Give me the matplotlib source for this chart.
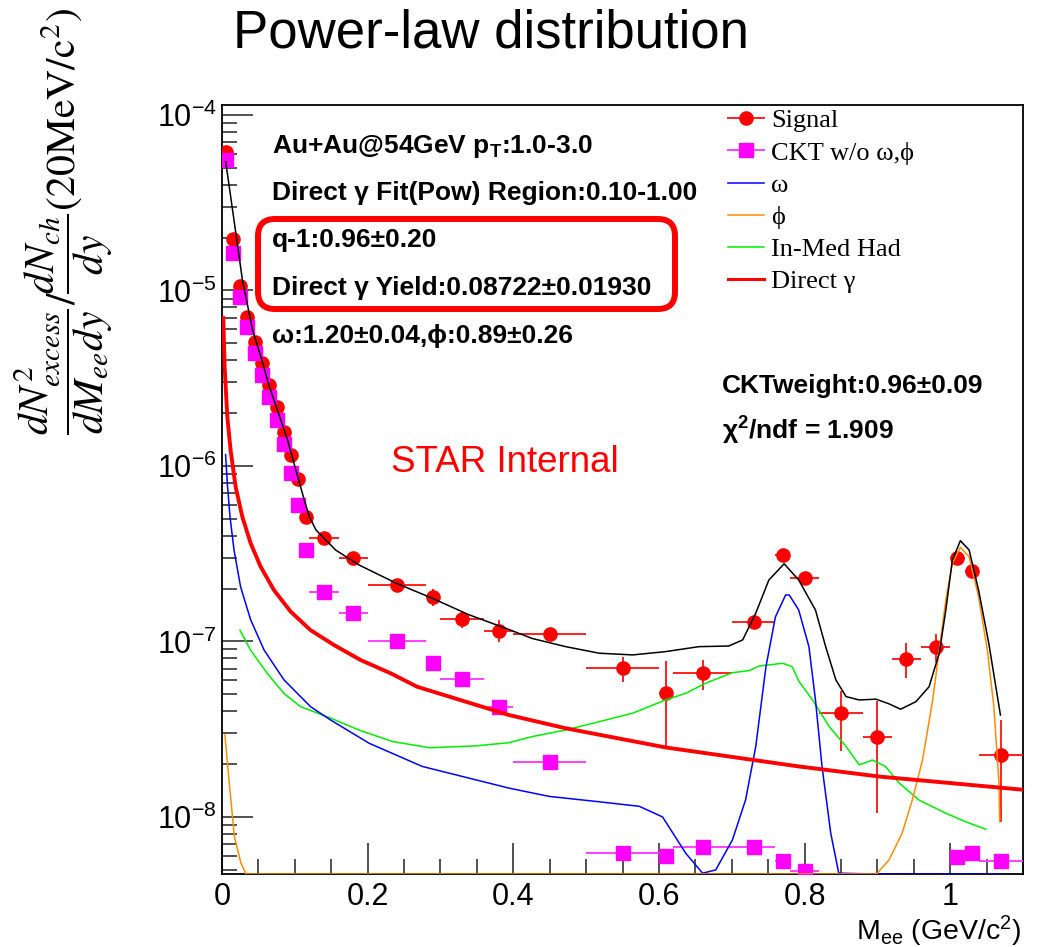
import numpy as np
import matplotlib
matplotlib.use("Agg")
import matplotlib.pyplot as plt
import matplotlib.ticker as mticker
from matplotlib.lines import Line2D
from matplotlib.patches import FancyBboxPatch

plt.rcParams.update({
    "font.family": ["Liberation Sans", "DejaVu Sans"],
    "mathtext.fontset": "custom",
    "mathtext.rm": "Liberation Sans",
    "mathtext.it": "Liberation Sans:italic",
    "mathtext.bf": "Liberation Sans:bold",
    "mathtext.sf": "Liberation Sans",
})

W, H = 1043, 947

# ── data ─────────────────────────────────────────────────────────────────────
sig_x = [0.005, 0.015, 0.025, 0.035, 0.045, 0.055, 0.065, 0.075, 0.085, 0.095,
         0.105, 0.115, 0.14, 0.18, 0.24, 0.29, 0.33, 0.38, 0.45, 0.55, 0.61,
         0.66, 0.73, 0.77, 0.80, 0.85, 0.90, 0.94, 0.98, 1.01, 1.03, 1.07]
sig_xerr = [0.005] * 12 + [0.02, 0.02, 0.04, 0.01, 0.03, 0.02, 0.05, 0.05, 0.01,
                           0.04, 0.03, 0.01, 0.02, 0.03, 0.02, 0.02, 0.02, 0.01,
                           0.01, 0.03]
sig_y = [6.18e-5, 1.96e-5, 1.06e-5, 7.1e-6, 5.1e-6, 3.85e-6, 2.88e-6, 2.16e-6,
         1.57e-6, 1.16e-6, 8.43e-7, 5.1e-7, 3.87e-7, 2.98e-7, 2.10e-7, 1.80e-7,
         1.34e-7, 1.14e-7, 1.10e-7, 7.1e-8, 5.1e-8, 6.6e-8, 1.29e-7, 3.11e-7,
         2.31e-7, 3.93e-8, 2.87e-8, 7.94e-8, 9.26e-8, 2.98e-7, 2.53e-7, 2.25e-8]
sig_elo = [2e-6, 8e-7, 4e-7, 3e-7, 2e-7, 1.5e-7, 1.2e-7, 1e-7, 7e-8, 5e-8, 4e-8,
           3e-8, 2.5e-8, 2e-8, 1.2e-8, 2e-8, 1.5e-8, 1.5e-8, 8e-9, 1.2e-8, 2.6e-8,
           1.3e-8, 1.1e-8, 1.5e-8, 1.2e-8, 1.54e-8, 1.82e-8, 1.74e-8, 1.66e-8,
           1.5e-8, 1.5e-8, 1.32e-8]
sig_ehi = [2e-6, 8e-7, 4e-7, 3e-7, 2e-7, 1.5e-7, 1.2e-7, 1e-7, 7e-8, 5e-8, 4e-8,
           3e-8, 2.5e-8, 2e-8, 1.2e-8, 2e-8, 1.5e-8, 1.8e-8, 8e-9, 1.1e-8, 2.6e-8,
           1.2e-8, 1.1e-8, 1.5e-8, 1.2e-8, 1.27e-8, 1.73e-8, 1.86e-8, 1.74e-8,
           1.5e-8, 1.5e-8, 1.32e-8]

ckt_x = [0.005, 0.015, 0.025, 0.035, 0.045, 0.055, 0.065, 0.075, 0.085, 0.095,
         0.105, 0.115, 0.14, 0.18, 0.24, 0.29, 0.33, 0.38, 0.45, 0.55, 0.61,
         0.66, 0.73, 0.77, 0.80, 1.01, 1.03, 1.07]
ckt_xerr = [0.005] * 12 + [0.02, 0.02, 0.04, 0.01, 0.03, 0.02, 0.05, 0.05, 0.01,
                           0.04, 0.03, 0.01, 0.02, 0.01, 0.01, 0.03]
ckt_y = [5.54e-5, 1.63e-5, 9.14e-6, 6.17e-6, 4.38e-6, 3.30e-6, 2.46e-6, 1.83e-6,
         1.33e-6, 9.16e-7, 6.0e-7, 3.32e-7, 1.92e-7, 1.45e-7, 1.01e-7, 7.54e-8,
         6.1e-8, 4.25e-8, 2.06e-8, 6.2e-9, 6.0e-9, 6.78e-9, 6.78e-9, 5.63e-9,
         4.94e-9, 5.94e-9, 6.2e-9, 5.63e-9]

tot_x = [0.005, 0.010, 0.019, 0.028, 0.042, 0.056, 0.065, 0.076, 0.090, 0.102,
         0.113, 0.120, 0.129, 0.156, 0.188, 0.239, 0.289, 0.339, 0.394, 0.426,
         0.472, 0.518, 0.564, 0.609, 0.655, 0.696, 0.715, 0.733, 0.751, 0.772,
         0.792, 0.815, 0.829, 0.843, 0.857, 0.875, 0.898, 0.916, 0.932, 0.953,
         0.971, 0.985, 0.994, 1.003, 1.014, 1.026, 1.039, 1.053, 1.069]
tot_y = [5.42e-5, 3.90e-5, 2.12e-5, 1.15e-5, 5.96e-6, 3.85e-6, 2.83e-6, 2.09e-6,
         1.41e-6, 9.28e-7, 6.4e-7, 5.14e-7, 4.32e-7, 3.32e-7, 2.73e-7, 2.15e-7,
         1.76e-7, 1.42e-7, 1.17e-7, 1.04e-7, 9.34e-8, 8.57e-8, 8.38e-8, 8.75e-8,
         9.34e-8, 9.42e-8, 1.02e-7, 1.45e-7, 2.24e-7, 2.77e-7, 2.24e-7, 1.51e-7,
         9.34e-8, 6.04e-8, 4.85e-8, 4.64e-8, 4.69e-8, 4.41e-8, 4.11e-8, 4.54e-8,
         5.52e-8, 8.57e-8, 1.51e-7, 2.91e-7, 3.75e-7, 3.32e-7, 1.96e-7, 9.77e-8,
         3.81e-8]

omega_x = [0.0049, 0.0073, 0.011, 0.0165, 0.0255, 0.0393, 0.0577, 0.0851, 0.1216,
           0.149, 0.202, 0.275, 0.394, 0.449, 0.518, 0.573, 0.605, 0.637, 0.660,
           0.678, 0.701, 0.719, 0.733, 0.747, 0.760, 0.774, 0.779, 0.792, 0.806,
           0.815, 0.824, 0.836, 0.847, 0.90, 1.07]
omega_y = [1.16e-6, 7.96e-7, 5.14e-7, 3.32e-7, 2.05e-7, 1.33e-7, 8.95e-8, 6.04e-8,
           4.25e-8, 3.57e-8, 2.63e-8, 1.94e-8, 1.46e-8, 1.31e-8, 1.22e-8, 1.15e-8,
           1.0e-8, 6.2e-9, 4.78e-9, 4.99e-9, 7.4e-9, 1.25e-8, 2.52e-8, 7.18e-8,
           1.38e-7, 1.84e-7, 1.84e-7, 1.51e-7, 9.34e-8, 4.64e-8, 1.94e-8, 8.07e-9,
           4.78e-9, 0.0, 0.0]

phi_x = [0.004, 0.010, 0.017, 0.026, 0.033, 0.04, 0.85, 0.899, 0.916, 0.934,
         0.948, 0.962, 0.976, 0.985, 0.994, 1.003, 1.014, 1.026, 1.039, 1.051,
         1.060, 1.067, 1.068]
phi_y = [2.93e-8, 1.56e-8, 7.73e-9, 5.45e-9, 4.73e-9, 0.0, 0.0, 4.73e-9, 5.69e-9,
         8.07e-9, 1.25e-8, 2.11e-8, 4.64e-8, 8.95e-8, 1.72e-7, 2.79e-7, 3.44e-7,
         3.04e-7, 1.80e-7, 8.95e-8, 4.25e-8, 1.56e-8, 9.4e-9]

had_x = [0.0247, 0.039, 0.062, 0.085, 0.108, 0.149, 0.188, 0.234, 0.285, 0.349,
         0.394, 0.426, 0.472, 0.518, 0.564, 0.609, 0.637, 0.664, 0.701, 0.724,
         0.738, 0.770, 0.783, 0.792, 0.811, 0.834, 0.857, 0.875, 0.893, 0.911,
         0.930, 0.957, 0.994, 1.021, 1.049]
had_y = [1.16e-7, 8.95e-8, 6.59e-8, 5.06e-8, 4.25e-8, 3.66e-8, 3.13e-8, 2.69e-8,
         2.48e-8, 2.54e-8, 2.65e-8, 2.87e-8, 3.13e-8, 3.49e-8, 3.90e-8, 4.64e-8,
         5.07e-8, 5.78e-8, 6.64e-8, 6.82e-8, 7.25e-8, 7.51e-8, 7.18e-8, 5.95e-8,
         4.64e-8, 3.27e-8, 2.52e-8, 1.98e-8, 2.11e-8, 1.94e-8, 1.56e-8, 1.25e-8,
         1.05e-8, 9.4e-9, 8.5e-9]

dg_x = [0.0018, 0.0036, 0.0073, 0.0118, 0.0187, 0.0279, 0.0393, 0.053, 0.0714,
        0.0942, 0.1216, 0.1537, 0.190, 0.2314, 0.268, 0.394, 0.472, 0.609, 0.792,
        0.902, 1.099]
dg_y = [6.95e-6, 3.68e-6, 1.91e-6, 1.23e-6, 7.62e-7, 5.14e-7, 3.63e-7, 2.67e-7,
        1.96e-7, 1.48e-7, 1.16e-7, 9.55e-8, 7.85e-8, 6.59e-8, 5.52e-8, 3.81e-8,
        3.20e-8, 2.49e-8, 1.94e-8, 1.70e-8, 1.43e-8]

YMIN, YMAX = 4.73e-9, 1.14e-4

info_lines = [
    r"Au+Au@54GeV p$_{\mathbf{T}}$:1.0-3.0",
    "Direct γ Fit(Pow) Region:0.10-1.00",
    "q-1:0.96±0.20",
    "Direct γ Yield:0.08722±0.01930",
    "ω:1.20±0.04,ϕ:0.89±0.26",
]
info_base_y = [153, 200, 247, 295, 343]


def fx(px):
    return px / W


def fy(py):
    return 1 - py / H


fig = plt.figure(figsize=(W / 100, H / 100), dpi=100)
ax = fig.add_axes([fx(222), fy(874), (1023 - 222) / W, (874 - 105) / H])
ax.set_yscale("log")
ax.set_xlim(0, 1.1)
ax.set_ylim(YMIN, YMAX)


def floor(v):
    return np.clip(np.asarray(v, dtype=float), YMIN, None)


ax.errorbar(sig_x, sig_y, xerr=sig_xerr, yerr=[sig_elo, sig_ehi], fmt="o",
            color="#ff0000", ecolor="#ff2020", elinewidth=1.4, markersize=9.5,
            capsize=0, zorder=3)
ax.errorbar(ckt_x, ckt_y, xerr=ckt_xerr, fmt="s", color="#ff00ff",
            ecolor="#ff40ff", elinewidth=1.4, markersize=10, capsize=0, zorder=4)

ax.plot(had_x, had_y, color="#00ee00", lw=1.1, zorder=5)
ax.plot(omega_x, floor(omega_y), color="#0000ff", lw=1.1, zorder=5)
ax.plot(phi_x, floor(phi_y), color="#ff8c00", lw=1.1, zorder=5)
ax.plot(dg_x, dg_y, color="#ff0000", lw=2.8, zorder=5)
ax.plot(tot_x, tot_y, color="black", lw=1.1, zorder=6)

# ROOT-like axes: ticks inside, no ticks top/right
for s in ax.spines.values():
    s.set_linewidth(1.3)
ax.xaxis.set_major_locator(mticker.MultipleLocator(0.2))
ax.xaxis.set_minor_locator(mticker.MultipleLocator(0.05))
ax.xaxis.set_major_formatter(mticker.FuncFormatter(lambda v, _: f"{v:g}"))
ax.yaxis.set_major_locator(mticker.LogLocator(base=10, numticks=20))
ax.yaxis.set_minor_locator(mticker.LogLocator(base=10, subs=np.arange(2, 10), numticks=20))
ax.yaxis.set_minor_formatter(mticker.NullFormatter())
ax.tick_params(which="both", direction="in", top=False, right=False,
               labelsize=22, width=1.1, color="#222222")
ax.tick_params(which="major", length=22)
ax.tick_params(which="minor", length=11)
ax.tick_params(axis="x", pad=6)
ax.tick_params(axis="y", pad=4)

handles = [
    Line2D([], [], color="#ff2020", marker="o", markerfacecolor="#ff0000",
           markeredgecolor="#ff0000", markersize=9.5, lw=1.4),
    Line2D([], [], color="#ff40ff", marker="s", markerfacecolor="#ff00ff",
           markeredgecolor="#ff00ff", markersize=10, lw=1.4),
    Line2D([], [], color="#0000ff", lw=1.1),
    Line2D([], [], color="#ff8c00", lw=1.1),
    Line2D([], [], color="#00ee00", lw=1.1),
    Line2D([], [], color="#ff0000", lw=2.2),
]
labels = ["Signal", "CKT w/o ω,ϕ", "ω", "ϕ", "In-Med Had", "Direct γ"]
fig.legend(handles, labels, loc="upper left", bbox_to_anchor=(fx(728), fy(109)),
           frameon=False, borderpad=0, borderaxespad=0, handlelength=1.35,
           handletextpad=0.28, labelspacing=0.33,
           prop={"family": ["Liberation Serif", "DejaVu Serif"], "size": 19})

for txt, by in zip(info_lines, info_base_y):
    fig.text(fx(272), fy(by), txt, fontsize=19, fontweight="bold",
             va="baseline", ha="left")

fig.text(fx(722), fy(393), "CKTweight:0.96±0.09", fontsize=19,
         fontweight="bold", va="baseline")
fig.text(fx(722), fy(440), r"χ$^{\mathbf{2}}$/ndf = 1.909", fontsize=19,
         fontweight="bold", va="baseline")
fig.text(fx(391), fy(472), "STAR Internal", fontsize=26.5, color="#ff0000",
         va="baseline")

box = FancyBboxPatch((2.58, (H - 309) / 100), 4.17, 0.90,
                     boxstyle="round,pad=0,rounding_size=0.17",
                     transform=fig.dpi_scale_trans, fill=False,
                     edgecolor="#ff0000", linewidth=4.3, zorder=10)
fig.patches.append(box)

fig.text(fx(491), fy(47), "Power-law distribution", fontsize=38,
         ha="center", va="baseline")
fig.text(fx(1021), fy(940), r"M$_{\mathrm{ee}}$ (GeV/c$^{2}$)", fontsize=20.5,
         ha="right", va="baseline")
fig.text(fx(64), fy(222),
         r"$\dfrac{dN^{2}_{excess}}{dM_{ee}dy}/\dfrac{dN_{ch}}{dy}(\mathrm{20MeV/c^{2}})$",
         fontsize=30, rotation=90, ha="center", va="center",
         math_fontfamily="stix")

fig.savefig("out.png", dpi=100)
